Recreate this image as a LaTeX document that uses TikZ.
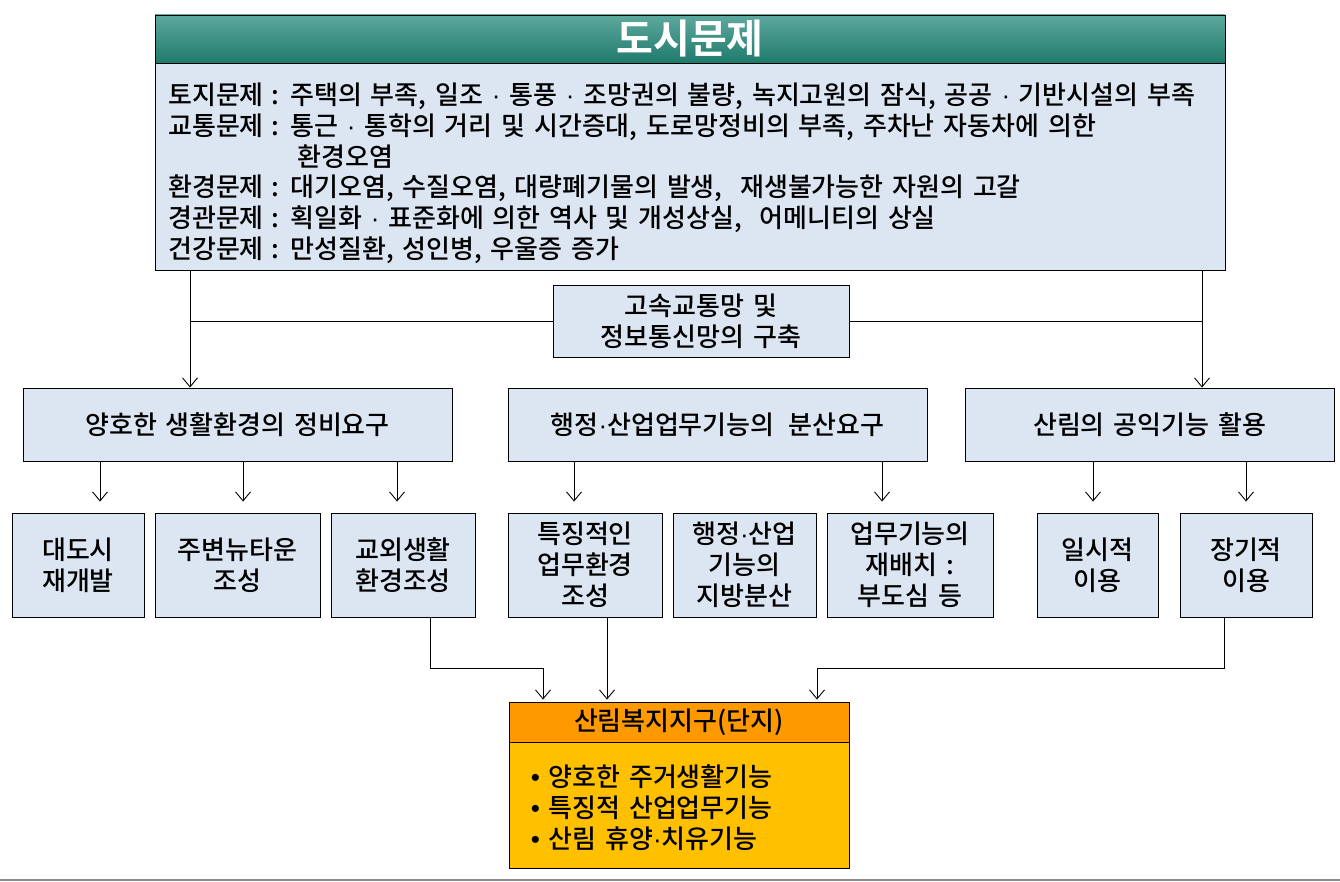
\documentclass[tikz,border=0pt]{standalone}
\usepackage{fontspec}
\setmainfont{Noto Sans CJK KR}[UprightFont={* Medium}, BoldFont={* Bold}, WordSpace=1.5]
\newfontfamily\latinfont{Liberation Sans}
\newcommand{\mdot}{{\latinfont ·}}
\usepackage{tikz}
\usetikzlibrary{arrows.meta,positioning}
\definecolor{boxblue}{HTML}{DCE6F2}
\definecolor{tealtop}{HTML}{5EA99E}
\definecolor{tealbottom}{HTML}{1F7A6B}
\definecolor{forestorange}{HTML}{FF9900}
\definecolor{forestgold}{HTML}{FFC000}
\definecolor{rulegray}{HTML}{8C8C8C}

\begin{document}
\begin{tikzpicture}[
    x=1pt, y=-1pt,
    every node/.style={font=\fontsize{26}{31}\selectfont},
    box/.style={draw=black, fill=boxblue, line width=0.9pt, align=center, inner sep=0pt},
    link/.style={line width=0.9pt},
    arr/.style={link, -{Straight Barb[length=9pt,width=15pt,line width=0.9pt]}, shorten >=11pt}
]
    \useasboundingbox (0,0) rectangle (1340,882);

    % === URBAN PROBLEMS ===
    \node[box, minimum width=1070, minimum height=255] (problems) at (690,142.5) {};
    \node[draw=black, line width=0.9pt, top color=tealtop, bottom color=tealbottom,
          minimum width=1070, minimum height=48, inner sep=0pt] (head) at (690,39) {};
    \node[text=white, font=\fontsize{40}{42}\selectfont\bfseries] (title) at (head.center) {도시문제};
    \node[anchor=north west, inner sep=0pt] (issues) at (168,83) {\fontsize{26}{30}\selectfont
        \begin{tabular}{@{}l@{\hspace{8pt}}l@{}}
            토지문제 & : 주택의 부족, 일조 \mdot{} 통풍 \mdot{} 조망권의 불량, 녹지고원의 잠식, 공공 \mdot{} 기반시설의 부족\\
            교통문제 & : 통근 \mdot{} 통학의 거리 및 시간증대, 도로망정비의 부족, 주차난 자동차에 의한\\
                     & \hspace{26pt}환경오염\\
            환경문제 & : 대기오염, 수질오염, 대량폐기물의 발생,\ \ 재생불가능한 자원의 고갈\\
            경관문제 & : 획일화 \mdot{} 표준화에 의한 역사 및 개성상실,\ \ 어메니티의 상실\\
            건강문제 & : 만성질환, 성인병, 우울증 증가
        \end{tabular}};

    % Network box in between
    \node[box, minimum width=296, minimum height=72] (network) at (701,321) {고속교통망 및\\정보통신망의 구축};

    % === SECOND LEVEL ===
    \node[box, minimum width=429, minimum height=73] (living) at (237.5,424.5) {양호한 생활환경의 정비요구};
    \node[box, minimum width=419, minimum height=73] (decentral) at (717.5,424.5) {행정\mdot{}산업업무기능의\hspace{14pt}분산요구};
    \node[box, minimum width=369, minimum height=73] (forest) at (1149.5,424.5) {산림의 공익기능 활용};

    % === THIRD LEVEL ===
    \node[box, minimum width=132, minimum height=104] (redev) at (78,565) {대도시\\재개발};
    \node[box, minimum width=165, minimum height=104] (newtown) at (237.5,565) {주변뉴타운\\조성};
    \node[box, minimum width=144, minimum height=104] (suburb) at (403,565) {교외생활\\환경조성};
    \node[box, minimum width=154, minimum height=104] (office) at (585,565) {특징적인\\업무환경\\조성};
    \node[box, minimum width=143, minimum height=104] (region) at (744.5,565) {행정\mdot{}산업\\기능의\\지방분산};
    \node[box, minimum width=166, minimum height=104] (subcenter) at (910,565) {업무기능의\\재배치 :\\부도심 등};
    \node[box, minimum width=121, minimum height=104] (temporary) at (1097.5,565) {일시적\\이용};
    \node[box, minimum width=132, minimum height=104] (longterm) at (1246,565) {장기적\\이용};

    % === FOREST WELFARE DISTRICT ===
    \node[draw=black, fill=forestorange, line width=0.9pt, minimum width=340, minimum height=40, inner sep=0pt] (district) at (679,722) {산림복지지구(단지)};
    \node[draw=black, fill=forestgold, line width=0.9pt, minimum width=340, minimum height=126, inner sep=0pt, below=0pt of district] (functions) {};
    \node[anchor=west, align=left, inner sep=0pt] (list) at ([xshift=22pt,yshift=-2pt]functions.west) {%
        {\latinfont •} 양호한 주거생활기능\\
        {\latinfont •} 특징적 산업업무기능\\
        {\latinfont •} 산림 휴양\mdot{}치유기능};

    % === CONNECTORS ===
    \coordinate (lx) at (190,0);
    \coordinate (rx) at (1202,0);
    \draw[arr, shorten >=0pt] (problems.south -| lx) -- (living.north -| lx);
    \draw[arr, shorten >=0pt] (problems.south -| rx) -- (forest.north -| rx);
    \draw[link] (network.west) -- (network.west -| lx);
    \draw[link] (network.east) -- (network.east -| rx);

    % second to third level
    \foreach \xa/\target in {100/redev, 243/newtown, 397/suburb}
        \draw[arr] (living.south -| \xa,0) -- (\target.north -| \xa,0);
    \foreach \xa/\target in {574/office, 882/subcenter}
        \draw[arr] (decentral.south -| \xa,0) -- (\target.north -| \xa,0);
    \foreach \xa/\target in {1093/temporary, 1246/longterm}
        \draw[arr] (forest.south -| \xa,0) -- (\target.north -| \xa,0);

    % into the district
    \draw[arr, shorten >=2pt] (suburb.south -| 430,0) -- (430,668) -- (543,668) -- (district.north -| 543,0);
    \draw[arr, shorten >=2pt] (office.south -| 607,0) -- (district.north -| 607,0);
    \draw[arr, shorten >=2pt] (longterm.south -| 1224,0) -- (1224,668) -- (817,668) -- (district.north -| 817,0);

    % bottom rule
    \draw[rulegray, line width=1.2pt] (0,880) -- (1340,880);
\end{tikzpicture}
\end{document}
